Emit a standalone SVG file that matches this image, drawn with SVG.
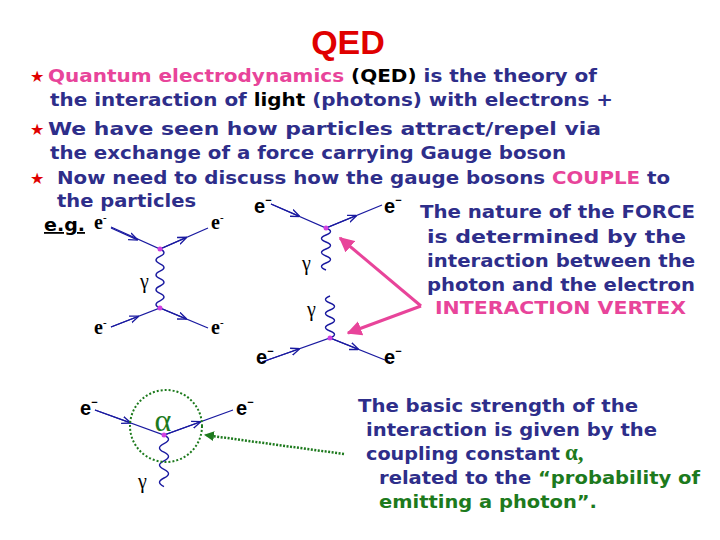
<svg xmlns="http://www.w3.org/2000/svg" width="720" height="540" viewBox="0 0 720 540">
<defs>
<style>
.t{font-family:"DejaVu Sans",Verdana,sans-serif;font-weight:bold;font-size:18px;fill:#2e2e8a}
.pk{fill:#e8449a}.gr{fill:#1d7a1d}.bk{fill:#000}
.st{font-family:"DejaVu Sans",sans-serif;font-size:16px;fill:#e00000}
.e{font-family:"Liberation Serif",serif;font-weight:bold;font-size:20px;fill:#000}
.es{font-family:"Liberation Sans",sans-serif;font-weight:bold;font-size:20px;fill:#000}
.g{font-family:"Liberation Serif",serif;font-size:20px;fill:#000}
.f{stroke:#1a1aa0;stroke-width:1.3;fill:none}
.w{stroke:#1a1aa0;stroke-width:1.4;fill:none}
.v{fill:#d040e0}
</style>
<marker id="ar" viewBox="0 0 10 10" refX="9" refY="5" markerWidth="7" markerHeight="7" orient="auto"><path d="M0,1 L10,5 L0,9" fill="none" stroke="#1a1aa0" stroke-width="1.5"/></marker>
<marker id="pa" viewBox="0 0 10 10" refX="9" refY="5" markerWidth="5" markerHeight="5" orient="auto"><path d="M0,0 L10,5 L0,10 z" fill="#e8449a"/></marker>
<marker id="ga" viewBox="0 0 10 10" refX="9" refY="5" markerWidth="4" markerHeight="4" orient="auto"><path d="M0,0 L10,5 L0,10 z" fill="#1d7a1d"/></marker>
</defs>
<rect width="720" height="540" fill="#fff"/>
<text x="348" y="54" text-anchor="middle" font-family="Liberation Sans,sans-serif" font-weight="bold" font-size="34" fill="#e00000">QED</text>
<g id="bullets">
<text class="st" x="30" y="82">★</text>
<text class="t" x="48" y="82" textLength="549" lengthAdjust="spacingAndGlyphs"><tspan class="pk">Quantum electrodynamics</tspan> <tspan class="bk">(QED)</tspan> is the theory of</text>
<text class="t" x="50" y="106" textLength="563" lengthAdjust="spacingAndGlyphs">the interaction of <tspan class="bk">light</tspan> (photons) with electrons +</text>
<text class="st" x="30" y="135">★</text>
<text class="t" x="48" y="135" textLength="553" lengthAdjust="spacingAndGlyphs">We have seen how particles attract/repel via</text>
<text class="t" x="50" y="159" textLength="516" lengthAdjust="spacingAndGlyphs">the exchange of a force carrying Gauge boson</text>
<text class="st" x="30" y="184">★</text>
<text class="t" x="57" y="184" textLength="613" lengthAdjust="spacingAndGlyphs">Now need to discuss how the gauge bosons <tspan class="pk">COUPLE</tspan> to</text>
<text class="t" x="57" y="207" textLength="139" lengthAdjust="spacingAndGlyphs">the particles</text>
<text class="t" x="44" y="231" textLength="41" lengthAdjust="spacingAndGlyphs" style="fill:#000;text-decoration:underline">e.g.</text>
</g>
<g id="right-text">
<text class="t" x="420" y="218" textLength="275" lengthAdjust="spacingAndGlyphs">The nature of the FORCE</text>
<text class="t" x="427" y="243" textLength="259" lengthAdjust="spacingAndGlyphs">is determined by the</text>
<text class="t" x="427" y="267" textLength="268" lengthAdjust="spacingAndGlyphs">interaction between the</text>
<text class="t" x="427" y="291" textLength="268" lengthAdjust="spacingAndGlyphs">photon and the electron</text>
<text class="t pk" x="435" y="314" textLength="251" lengthAdjust="spacingAndGlyphs">INTERACTION VERTEX</text>
</g>
<g id="bottom-text">
<text class="t" x="358" y="412" textLength="280" lengthAdjust="spacingAndGlyphs">The basic strength of the</text>
<text class="t" x="366" y="436" textLength="291" lengthAdjust="spacingAndGlyphs">interaction is given by the</text>
<text class="t" x="366" y="460" textLength="194" lengthAdjust="spacingAndGlyphs">coupling constant</text>
<text x="565" y="460" font-family="Liberation Serif,serif" font-weight="bold" font-size="23" fill="#1d7a1d">α,</text>
<text class="t" x="379" y="484" textLength="321" lengthAdjust="spacingAndGlyphs">related to the <tspan class="gr">“probability of</tspan></text>
<text class="t gr" x="379" y="508" textLength="218" lengthAdjust="spacingAndGlyphs">emitting a photon”.</text>
</g>
<g id="diagram1">
<path class="f" d="M111,227 L160,249 L208,228"/>
<path class="f" d="M111,228 L137,239.7" marker-end="url(#ar)"/>
<path class="f" d="M160,249 L186,237.6" marker-end="url(#ar)"/>
<path class="f" d="M111,327 L160,308 L208,328"/>
<path class="f" d="M111,327 L138,316.5" marker-end="url(#ar)"/>
<path class="f" d="M160,308 L186,318.8" marker-end="url(#ar)"/>
<path class="w" d="M160,249 q8,3.7 0,7.4 t0,7.4 t0,7.4 t0,7.4 t0,7.4 t0,7.4 t0,7.4 t0,7.4"/>
<circle class="v" cx="160" cy="249" r="2.5"/><circle class="v" cx="160" cy="308" r="2.5"/>
<text class="e" x="94" y="229">e<tspan font-size="11" dy="-8">-</tspan></text>
<text class="e" x="211" y="229">e<tspan font-size="11" dy="-8">-</tspan></text>
<text class="e" x="94" y="334">e<tspan font-size="11" dy="-8">-</tspan></text>
<text class="e" x="211" y="334">e<tspan font-size="11" dy="-8">-</tspan></text>
<text class="g" x="140" y="288">γ</text>
</g>
<g id="diagram2">
<path class="f" d="M271,204 L326,228 L382,205"/>
<path class="f" d="M271,204 L299,216.2" marker-end="url(#ar)"/>
<path class="f" d="M326,228 L356,215.7" marker-end="url(#ar)"/>
<path class="w" d="M326,228 q9,3.5 0,7 t0,7 t0,7 t0,7 t0,7 t0,7"/>
<path class="w" d="M330,296 q-9,3.5 0,7 t0,7 t0,7 t0,7 t0,7 t0,7"/>
<path class="f" d="M262,362 L330,338 L390,362"/>
<path class="f" d="M262,362 L299,349" marker-end="url(#ar)"/>
<path class="f" d="M330,338 L358,349.2" marker-end="url(#ar)"/>
<circle class="v" cx="326" cy="228" r="2.5"/><circle class="v" cx="330" cy="338" r="2.5"/>
<text class="es" x="254" y="213">e<tspan font-size="11" dy="-9">−</tspan></text>
<text class="es" x="384" y="213">e<tspan font-size="11" dy="-9">−</tspan></text>
<text class="es" x="256" y="364">e<tspan font-size="11" dy="-9">−</tspan></text>
<text class="es" x="384" y="364">e<tspan font-size="11" dy="-9">−</tspan></text>
<text class="g" x="302" y="270">γ</text>
<text class="g" x="307" y="316">γ</text>
</g>
<g id="diagram3">
<path class="f" d="M95,410 L164,435 L233,410"/>
<path class="f" d="M95,410 L130,422.7" marker-end="url(#ar)"/>
<path class="f" d="M164,435 L200,422" marker-end="url(#ar)"/>
<path class="w" d="M164,435 q9,4.3 0,8.6 t0,8.6 t0,8.6 t0,8.6 t0,8.6 t0,8.6"/>
<circle class="v" cx="164" cy="435" r="2.5"/>
<circle cx="166" cy="426" r="36" fill="none" stroke="#1d7a1d" stroke-width="2" stroke-dasharray="2,2"/>
<text x="163" y="431" text-anchor="middle" font-family="Liberation Serif,serif" font-size="32" fill="#1d7a1d">α</text>
<text class="es" x="80" y="415">e<tspan font-size="11" dy="-9">−</tspan></text>
<text class="es" x="236" y="415">e<tspan font-size="11" dy="-9">−</tspan></text>
<text class="g" x="138" y="488">γ</text>
</g>
<g id="connectors">
<path d="M421,306 L340,238" stroke="#e8449a" stroke-width="3" marker-end="url(#pa)" fill="none"/>
<path d="M421,306 L348,333" stroke="#e8449a" stroke-width="3" marker-end="url(#pa)" fill="none"/>
<path d="M344,454 L205,435" stroke="#1d7a1d" stroke-width="2.5" stroke-dasharray="2,1.5" marker-end="url(#ga)" fill="none"/>
</g>
</svg>
